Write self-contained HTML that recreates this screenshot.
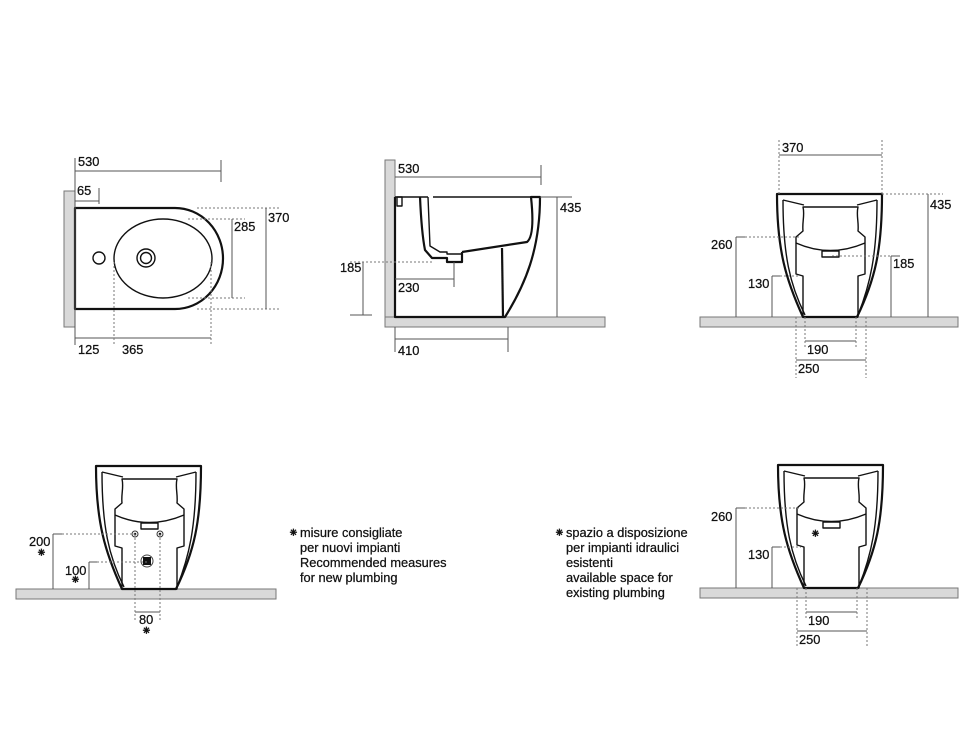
<!DOCTYPE html>
<html><head><meta charset="utf-8"><style>
html,body{margin:0;padding:0;background:#fff;}
svg{display:block;}
text{font-family:"Liberation Sans",Arial,sans-serif;font-size:12.8px;fill:#111;stroke:#111;stroke-width:0.25;}
.d{stroke:#555;stroke-width:1;fill:none;}
.dt{stroke:#777;stroke-width:1;fill:none;stroke-dasharray:2,2;}
.k{stroke:#111;stroke-width:2.2;fill:none;stroke-linejoin:round;}
.k1{stroke:#111;stroke-width:1.4;fill:none;stroke-linejoin:round;}
.g{fill:#d9d9d9;stroke:#777;stroke-width:1;}
</style></head><body>
<svg width="977" height="730" viewBox="0 0 977 730" xmlns="http://www.w3.org/2000/svg">
<defs>
<g id="bowl">
  <path class="k" d="M777,194 L882,194 C882,250 875,280 857,317 L803,317 C786,280 777,250 777,194 Z" fill="#fff"/>
  <path class="k1" d="M783,200 C783,255 790,285 805,315"/>
  <path class="k1" d="M877,200 C877,255 870,285 858,315"/>
  <path class="k1" d="M783,200 L804,205"/>
  <path class="k1" d="M877,200 L857,205"/>
</g>
<g id="inner">
  <path d="M803,207 L858,207 C856,215 859,222 858,231 L865,237 L865,274 L858,276 L858,317 L803,317 L803,276 L796,274 L796,237 L803,231 C802,222 805,215 803,207 Z"/>
  <path d="M796,243 Q830,258 865,243" fill="none"/>
  <rect x="822" y="251" width="17" height="6" fill="#fff"/>
</g>
</defs>

<!-- TOP-LEFT plan view -->
<rect x="64" y="191" width="11" height="136" class="g"/>
<path class="k" d="M75,208 L175,208 A48,50.5 0 0 1 175,309 L75,309 Z" fill="#fff"/>
<ellipse class="k1" cx="163" cy="258.5" rx="49" ry="39.5"/>
<circle class="k1" cx="99" cy="258" r="6"/>
<circle class="k1" cx="146" cy="258" r="9"/>
<circle class="k1" cx="146" cy="258" r="5.5"/>
<path class="d" d="M75,158 L75,345 M75,171 L221,171 M221,160 L221,182 M75,201 L99,201 M99,188 L99,204"/>
<text x="78" y="166">530</text>
<text x="77" y="195">65</text>
<path class="dt" d="M197,208 L280,208 M197,309 L280,309 M188,219 L245,219 M188,298 L245,298"/>
<path class="d" d="M266,208 L266,309 M232,219 L232,298"/>
<text x="268" y="222">370</text>
<text x="234" y="231">285</text>
<path class="d" d="M75,338 L211,338"/>
<path class="dt" d="M114,262 L114,345 M211,262 L211,345"/>
<text x="78" y="354">125</text>
<text x="122" y="354">365</text>

<!-- TOP-MIDDLE side view -->
<rect x="385" y="160" width="10" height="157" class="g"/>
<rect x="385" y="317" width="220" height="10" class="g"/>
<path class="k" d="M395,197 L395,317 L505,317 C525,285 540,250 540,197 L531,197 C534,225 532,238 527,242 L462,252"/>
<path class="k1" d="M395,197 L428,197"/>
<rect x="397" y="197" width="5" height="9" class="k1" fill="#fff"/>
<path class="k" d="M420,197 C421,220 423,240 425,250 L432,258 L447,258 L447,262 L462,262 L462,252"/>
<path class="k1" d="M428,197 L430,246 L440,252 L447,252 L447,254 L462,254"/>
<path class="k1" d="M433,197 L540,197"/>
<path class="k" d="M502,248 L503,317"/>
<path class="d" d="M395,177 L541,177 M541,165 L541,185 M540,197 L572,197 M557,197 L557,317 M363,262 L363,315 M350,315 L372,315 M395,279 L454,279 M454,262 L454,287 M395,327 L395,352 M508,327 L508,352 M395,339 L508,339"/>
<path class="dt" d="M350,262 L432,262"/>
<text x="398" y="173">530</text>
<text x="560" y="212">435</text>
<text x="340" y="272">185</text>
<text x="398" y="292">230</text>
<text x="398" y="355">410</text>

<!-- TOP-RIGHT front view -->
<rect x="700" y="317" width="258" height="10" class="g"/>
<use href="#bowl"/>
<g class="k1" fill="#fff"><use href="#inner"/></g>
<path class="d" d="M779,155 L882,155 M928,194 L928,317 M736,237 L736,317 M736,237 L745,237 M772,276 L772,317 M772,276 L780,276 M891,256 L891,317 M891,256 L900,256 M805,341 L856,341 M796,360 L866,360"/>
<path class="dt" d="M779,140 L779,194 M882,140 L882,194 M882,194 L943,194 M745,237 L800,237 M780,276 L800,276 M832,256 L891,256 M796,317 L796,378 M866,317 L866,378 M805,317 L805,348 M856,317 L856,348"/>
<text x="782" y="152">370</text>
<text x="930" y="209">435</text>
<text x="711" y="249">260</text>
<text x="748" y="288">130</text>
<text x="893" y="268">185</text>
<text x="807" y="354">190</text>
<text x="798" y="373">250</text>

<!-- BOTTOM-LEFT front view -->
<rect x="16" y="589" width="260" height="10" class="g"/>
<g transform="translate(-681,272)"><use href="#bowl"/><g class="k1" fill="#e4e4e4"><use href="#inner"/></g></g>
<circle cx="135" cy="534" r="3" fill="#fff" stroke="#333" stroke-width="1"/><circle cx="135" cy="534" r="1.3" fill="#111"/>
<circle cx="160" cy="534" r="3" fill="#fff" stroke="#333" stroke-width="1"/><circle cx="160" cy="534" r="1.3" fill="#111"/>
<circle cx="147" cy="561" r="6" fill="#fff" stroke="#444" stroke-width="1"/><rect x="143" y="557" width="8" height="8" fill="#111"/>
<path class="d" d="M53,534 L53,589 M53,534 L62,534 M89,562 L89,589 M89,562 L97,562 M135,612 L160,612"/>
<path class="dt" d="M62,534 L135,534 M97,562 L147,562 M135,534 L135,620 M160,534 L160,620"/>
<text x="29" y="546">200</text><text x="36" y="557" font-size="11">⁕</text>
<text x="65" y="575">100</text><text x="70" y="584" font-size="11">⁕</text>
<text x="139" y="624">80</text><text x="141" y="635" font-size="11">⁕</text>

<!-- BOTTOM-RIGHT front view -->
<rect x="700" y="588" width="258" height="10" class="g"/>
<g transform="translate(1,271)"><use href="#bowl"/><g class="k1" fill="#e4e4e4"><use href="#inner"/></g></g>
<text x="810" y="538" font-size="11">⁕</text>
<path class="d" d="M736,508 L736,588 M736,508 L745,508 M772,547 L772,588 M772,547 L780,547 M806,612 L857,612 M797,631 L867,631"/>
<path class="dt" d="M745,508 L801,508 M780,547 L801,547 M797,588 L797,648 M867,588 L867,648 M806,588 L806,619 M857,588 L857,619"/>
<text x="711" y="521">260</text>
<text x="748" y="559">130</text>
<text x="808" y="625">190</text>
<text x="799" y="644">250</text>

<!-- Legends -->
<text x="288" y="537" font-size="11">⁕</text>
<text x="300" y="537">misure consigliate</text>
<text x="300" y="552">per nuovi impianti</text>
<text x="300" y="567">Recommended measures</text>
<text x="300" y="582">for new plumbing</text>

<text x="554" y="537" font-size="11">⁕</text>
<text x="566" y="537">spazio a disposizione</text>
<text x="566" y="552">per impianti idraulici</text>
<text x="566" y="567">esistenti</text>
<text x="566" y="582">available space for</text>
<text x="566" y="597">existing plumbing</text>
</svg>
</body></html>
